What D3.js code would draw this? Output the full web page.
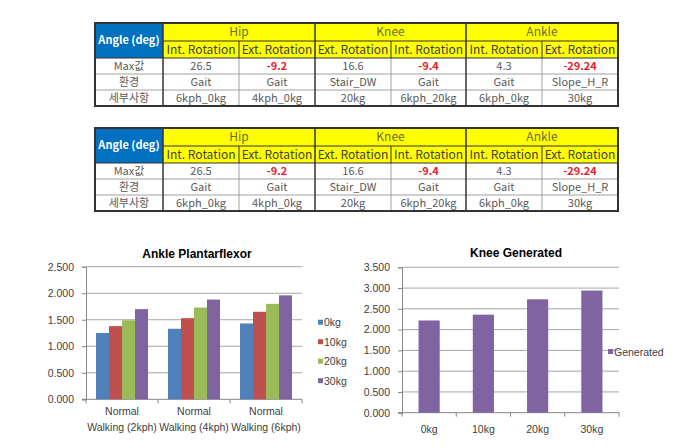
<!DOCTYPE html>
<html><head><meta charset="utf-8">
<script src="https://cdn.jsdelivr.net/npm/d3@7"></script>
<style>html,body{margin:0;padding:0;background:#fff;}svg{display:block;}</style>
</head><body>
<svg id="c" width="696" height="448"></svg>
<script>
// ---------- data ----------
const tableCorner = "Angle (deg)";
const tableGroups = ["Hip", "Knee", "Ankle"];
const tableSubHeaders = ["Int. Rotation", "Ext. Rotation", "Ext. Rotation", "Int. Rotation", "Int. Rotation", "Ext. Rotation"];
const rowLabels = ["Max값", "환경", "세부사항"];
const maxValues = ["26.5", "-9.2", "16.6", "-9.4", "4.3", "-29.24"];
const environments = ["Gait", "Gait", "Stair_DW", "Gait", "Gait", "Slope_H_R"];
const details = ["6kph_0kg", "4kph_0kg", "20kg", "6kph_20kg", "6kph_0kg", "30kg"];
const negativeFlags = [false, true, false, true, false, true];

const ankleTitle = "Ankle Plantarflexor";
const ankleCategories = ["Normal Walking (2kph)", "Normal Walking (4kph)", "Normal Walking (6kph)"];
const ankleSeries = ["0kg", "10kg", "20kg", "30kg"];
const ankle0kg = [1.25, 1.33, 1.43];
const ankle10kg = [1.38, 1.53, 1.65];
const ankle20kg = [1.49, 1.73, 1.80];
const ankle30kg = [1.70, 1.88, 1.96];
const ankleTicks = [0, 0.5, 1.0, 1.5, 2.0, 2.5];

const kneeTitle = "Knee Generated";
const kneeCategories = ["0kg", "10kg", "20kg", "30kg"];
const kneeSeriesName = "Generated";
const kneeValues = [2.22, 2.36, 2.73, 2.94];
const kneeTicks = [0, 0.5, 1.0, 1.5, 2.0, 2.5, 3.0, 3.5];

// ---------- drawing ----------
const svg = d3.select("#c");
svg.append("rect").attr("width", 696).attr("height", 448).attr("fill", "#fff");

const colX = [95, 163, 239, 315, 391, 466, 542, 618];
const rowY = [0, 18, 35, 51, 67, 83];
const tFont = "'Noto Sans CJK KR','Noto Sans',sans-serif";
const txtGray = "#595959";

function drawTable(top) {
  const g = svg.append("g").attr("transform", `translate(0,${top})`);
  g.append("rect").attr("x", colX[0]).attr("y", rowY[0]).attr("width", colX[1] - colX[0]).attr("height", rowY[2] - rowY[0]).attr("fill", "#0070C0");
  g.append("text").attr("x", (colX[0] + colX[1]) / 2).attr("y", (rowY[0] + rowY[2]) / 2).attr("dy", "0.35em")
    .attr("text-anchor", "middle").attr("fill", "#fff").attr("font-weight", "bold").attr("font-size", 11).attr("font-family", tFont).text(tableCorner);
  g.append("rect").attr("x", colX[1]).attr("y", rowY[0]).attr("width", colX[7] - colX[1]).attr("height", rowY[2] - rowY[0]).attr("fill", "#FFFF00");
  tableGroups.forEach((name, i) => {
    const x0 = colX[1 + i * 2], x1 = colX[3 + i * 2];
    g.append("text").attr("x", (x0 + x1) / 2).attr("y", (rowY[0] + rowY[1]) / 2).attr("dy", "0.35em")
      .attr("text-anchor", "middle").attr("fill", "#6b6b3a").attr("font-size", 12).attr("font-family", tFont).text(name);
  });
  tableSubHeaders.forEach((name, i) => {
    g.append("text").attr("x", (colX[i + 1] + colX[i + 2]) / 2).attr("y", (rowY[1] + rowY[2]) / 2).attr("dy", "0.35em")
      .attr("text-anchor", "middle").attr("fill", "#404040").attr("font-size", 12).attr("font-family", tFont).text(name);
  });
  const rows = [maxValues, environments, details];
  rows.forEach((vals, r) => {
    const yc = (rowY[r + 2] + rowY[r + 3]) / 2;
    g.append("text").attr("x", (colX[0] + colX[1]) / 2).attr("y", yc).attr("dy", "0.35em")
      .attr("text-anchor", "middle").attr("fill", txtGray).attr("font-size", 11).attr("font-family", tFont).text(rowLabels[r]);
    vals.forEach((v, i) => {
      const neg = r === 0 && negativeFlags[i];
      g.append("text").attr("x", (colX[i + 1] + colX[i + 2]) / 2).attr("y", yc).attr("dy", "0.35em")
        .attr("text-anchor", "middle").attr("fill", neg ? "#E8202A" : txtGray)
        .attr("font-weight", neg ? "bold" : "normal")
        .attr("font-size", 11).attr("font-family", tFont).text(v);
    });
  });
  [3, 4].forEach(r => g.append("line").attr("x1", colX[0]).attr("x2", colX[7]).attr("y1", rowY[r]).attr("y2", rowY[r]).attr("stroke", "#a0a0a0").attr("stroke-width", 1));
  [2, 4, 6].forEach(c => g.append("line").attr("x1", colX[c]).attr("x2", colX[c]).attr("y1", rowY[2]).attr("y2", rowY[5]).attr("stroke", "#a0a0a0").attr("stroke-width", 1));
  [2, 4, 6].forEach(c => g.append("line").attr("x1", colX[c]).attr("x2", colX[c]).attr("y1", rowY[1]).attr("y2", rowY[2]).attr("stroke", "#333").attr("stroke-width", 1));
  g.append("line").attr("x1", colX[1]).attr("x2", colX[7]).attr("y1", rowY[1]).attr("y2", rowY[1]).attr("stroke", "#333").attr("stroke-width", 1);
  g.append("line").attr("x1", colX[0]).attr("x2", colX[7]).attr("y1", rowY[2]).attr("y2", rowY[2]).attr("stroke", "#333").attr("stroke-width", 1);
  [1, 3, 5].forEach(c => g.append("line").attr("x1", colX[c]).attr("x2", colX[c]).attr("y1", rowY[0]).attr("y2", rowY[5]).attr("stroke", "#333").attr("stroke-width", 1.5));
  g.append("rect").attr("x", colX[0]).attr("y", rowY[0]).attr("width", colX[7] - colX[0]).attr("height", rowY[5] - rowY[0])
    .attr("fill", "none").attr("stroke", "#333").attr("stroke-width", 2);
}
drawTable(23);
drawTable(128);

// ---------- charts ----------
const cFont = "'Liberation Sans',Arial,sans-serif";
const gridCol = "#a6a6a6", axisCol = "#868686", lblCol = "#404040";
const seriesColors = ["#4F81BD", "#C0504D", "#9BBB59", "#8064A2"];
const fmt = d3.format(".3f");

function drawFrame(x0, x1, y, ticks, nCat, lblPad) {
  const g = svg.append("g");
  g.selectAll(".grid").data(ticks.slice(1)).join("line")
    .attr("x1", x0).attr("x2", x1).attr("y1", d => y(d)).attr("y2", d => y(d))
    .attr("stroke", gridCol).attr("stroke-width", 1);
  const yAxis = d3.axisLeft(y).tickValues(ticks).tickFormat(fmt).tickSize(4).tickPadding(lblPad);
  const ga = g.append("g").attr("transform", `translate(${x0},0)`).call(yAxis);
  ga.select(".domain").attr("stroke", axisCol);
  ga.selectAll(".tick line").attr("stroke", axisCol);
  ga.selectAll(".tick text").attr("fill", lblCol).attr("font-size", 10.5).attr("font-family", cFont);
  const y0 = y(0);
  g.append("line").attr("x1", x0 - 4).attr("x2", x1).attr("y1", y0).attr("y2", y0).attr("stroke", axisCol);
  d3.range(nCat + 1).forEach(i => {
    const xx = x0 + (x1 - x0) * i / nCat;
    g.append("line").attr("x1", xx).attr("x2", xx).attr("y1", y0).attr("y2", y0 + 4).attr("stroke", axisCol);
  });
}

// Left chart
(function () {
  const y = d3.scaleLinear().domain([0, 2.5]).range([399.3, 266.7]);
  const x0 = d3.scaleBand().domain(ankleCategories).range([86, 302]);
  const x1 = d3.scaleBand().domain(ankleSeries).range([0, 52]);
  const seriesVals = [ankle0kg, ankle10kg, ankle20kg, ankle30kg];
  drawFrame(86, 302, y, ankleTicks, ankleCategories.length, 8);
  const pad = (x0.bandwidth() - 52) / 2;
  ankleSeries.forEach((s, si) => {
    svg.append("g").selectAll("rect").data(seriesVals[si]).join("rect")
      .attr("x", (d, i) => x0(ankleCategories[i]) + pad + x1(s))
      .attr("width", x1.bandwidth())
      .attr("y", d => y(d)).attr("height", d => y(0) - y(d))
      .attr("fill", seriesColors[si]);
  });
  ankleCategories.forEach(c => {
    const parts = c.split(" ");
    const cx = x0(c) + x0.bandwidth() / 2;
    const t = svg.append("text").attr("x", cx).attr("y", 415).attr("text-anchor", "middle")
      .attr("fill", lblCol).attr("font-size", 10.5).attr("font-family", cFont);
    t.append("tspan").attr("x", cx).attr("dy", 0).text(parts[0]);
    t.append("tspan").attr("x", cx).attr("dy", 16).text(parts.slice(1).join(" "));
  });
  svg.append("text").attr("x", 197).attr("y", 258).attr("text-anchor", "middle").attr("font-weight", "bold")
    .attr("font-size", 12).attr("font-family", cFont).attr("fill", "#000").text(ankleTitle);
  ankleSeries.forEach((s, i) => {
    const ly = 322.7 + i * 19.5;
    svg.append("rect").attr("x", 318).attr("y", ly - 3).attr("width", 5).attr("height", 5).attr("fill", seriesColors[i]);
    svg.append("text").attr("x", 324).attr("y", ly).attr("dy", "0.35em").attr("fill", lblCol)
      .attr("font-size", 10.5).attr("font-family", cFont).text(s);
  });
})();

// Right chart
(function () {
  const y = d3.scaleLinear().domain([0, 3.5]).range([412.7, 267.3]);
  const x = d3.scaleBand().domain(kneeCategories).range([402, 619]).paddingInner(0.61).paddingOuter(0.305);
  drawFrame(402, 619, y, kneeTicks, kneeCategories.length, 8);
  svg.append("g").selectAll("rect").data(kneeValues).join("rect")
    .attr("x", (d, i) => x(kneeCategories[i])).attr("width", x.bandwidth())
    .attr("y", d => y(d)).attr("height", d => y(0) - y(d)).attr("fill", seriesColors[3]);
  svg.append("g").selectAll("text").data(kneeCategories).join("text")
    .attr("x", d => x(d) + x.bandwidth() / 2).attr("y", 429).attr("dy", "0.35em").attr("text-anchor", "middle")
    .attr("fill", lblCol).attr("font-size", 10.5).attr("font-family", cFont).text(d => d);
  svg.append("text").attr("x", 516).attr("y", 257).attr("text-anchor", "middle").attr("font-weight", "bold")
    .attr("font-size", 12).attr("font-family", cFont).attr("fill", "#000").text(kneeTitle);
  svg.append("rect").attr("x", 608).attr("y", 349).attr("width", 5).attr("height", 5).attr("fill", seriesColors[3]);
  svg.append("text").attr("x", 614).attr("y", 352).attr("dy", "0.35em").attr("fill", lblCol)
    .attr("font-size", 10.5).attr("font-family", cFont).text(kneeSeriesName);
})();
</script>
</body></html>
